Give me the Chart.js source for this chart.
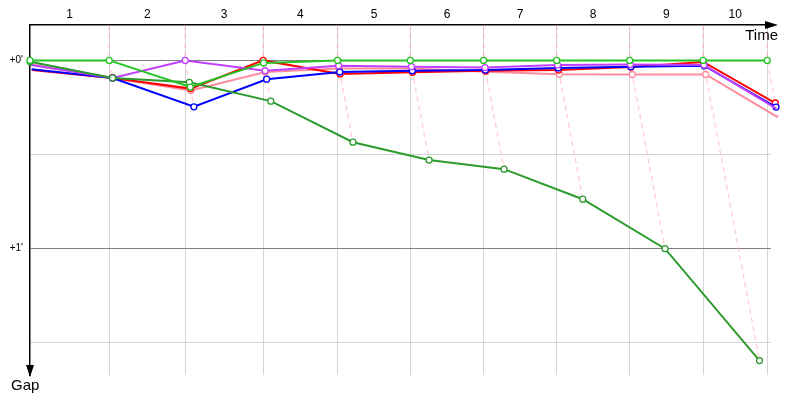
<!DOCTYPE html>
<html>
<head>
<meta charset="utf-8">
<script src="https://cdn.jsdelivr.net/npm/chart.js@4"></script>
<style>
  html, body { margin: 0; padding: 0; background: #fff; }
  #wrap { width: 800px; height: 400px; }
</style>
</head>
<body>
<div id="wrap"><canvas id="gapChart"></canvas></div>
<script>
/* ===== DATA ===== */
const laps = ["1", "2", "3", "4", "5", "6", "7", "8", "9", "10"];
// leader's elapsed time (s) at each lap line, start = 0
const lapEnds = [0, 134.6, 263.5, 395.8, 522.2, 645.7, 770.1, 894.2, 1018, 1142.7, 1251.7];

// gap to the leader (s) at each lap line
const gapLime   = [0, 0, 8.5, 0.8, 0, 0, 0, 0, 0, 0, 0];
const gapForest = [0.4, 5.6, 7.0, 13.0, 26.1, 31.8, 34.7, 44.3, 60.1, 95.8, null];
const gapViolet = [1.5, 5.6, 0, 3.3, 1.7, 2.0, 2.3, 1.5, 1.3, 1.5, 15.4];
const gapBlue   = [2.8, 5.6, 14.8, 6.0, 3.7, 3.3, 3.1, 2.4, 2.0, 1.7, 14.9];
const gapRed    = [3.1, 5.6, 9.0, 0, 4.3, 3.8, 3.3, 3.1, 2.1, 0.5, 13.6];
const gapPink   = [1.2, 5.6, 9.6, 3.7, 2.6, 2.6, 3.6, 4.4, 4.5, 4.5, 18.2];

const gapTicks = [0, 30, 60, 90];
const gapLabels = ["+0'", "", "+1'", ""];

/* ===== SERIES ===== */
const riders = [
  { gaps: gapLime,   color: "#22c422" },
  { gaps: gapForest, color: "#2c9a2c" },
  { gaps: gapViolet, color: "#c040ff" },
  { gaps: gapBlue,   color: "#0000ff" },
  { gaps: gapRed,    color: "#ff0000" },
  { gaps: gapPink,   color: "#ff8c9c" }
];

const X_MAX = 1258;
const Y_MIN = -11.3;
const Y_MAX = 100.4;

// a point sits at (leader time + gap, gap)
function toPoints(gaps) {
  const pts = [];
  gaps.forEach((g, i) => {
    if (g === null) return;
    pts.push({ x: lapEnds[i] + g, y: g });
  });
  return pts;
}

const datasets = riders.map((r, k) => ({
  data: toPoints(r.gaps),
  borderColor: r.color,
  backgroundColor: r.color,
  borderWidth: 2,
  pointRadius: ctx => (ctx.dataIndex === 0 && ctx.raw && ctx.raw.y > 0.5 ? 0 : 3),
  pointBackgroundColor: "#fff",
  pointBorderColor: r.color,
  pointBorderWidth: 1.3,
  tension: 0,
  clip: false,
  order: k
}));

// dashed lines: same finishing time for each lap line
for (let i = 1; i < lapEnds.length; i++) {
  const vals = riders.map(r => r.gaps[i]).filter(v => v !== null);
  const m = Math.max(...vals);
  datasets.push({
    data: [
      { x: lapEnds[i], y: Y_MIN },
      { x: lapEnds[i], y: 0 },
      { x: lapEnds[i] + m, y: m }
    ],
    borderColor: "rgba(255,160,185,0.55)",
    borderWidth: 1.3,
    borderDash: [5, 4],
    pointRadius: 0,
    clip: false,
    order: 20
  });
}

/* ===== AXIS ARROWS + TITLES ===== */
const arrows = {
  id: "arrows",
  afterDraw(chart) {
    const { ctx, chartArea: a } = chart;
    ctx.save();
    ctx.strokeStyle = "#000";
    ctx.fillStyle = "#000";
    ctx.lineWidth = 1.5;

    // time axis, along the top
    ctx.beginPath();
    ctx.moveTo(a.right, a.top);
    ctx.lineTo(768, a.top);
    ctx.stroke();
    ctx.beginPath();
    ctx.moveTo(778, a.top);
    ctx.lineTo(765, a.top - 4);
    ctx.lineTo(765, a.top + 4);
    ctx.closePath();
    ctx.fill();

    // gap axis, down the left
    ctx.beginPath();
    ctx.moveTo(a.left, a.bottom - 2);
    ctx.lineTo(a.left, a.bottom + 2);
    ctx.lineTo(a.left - 4, a.bottom - 10);
    ctx.lineTo(a.left + 4, a.bottom - 10);
    ctx.lineTo(a.left, a.bottom + 2);
    ctx.fill();

    ctx.font = "15px 'Liberation Sans', sans-serif";
    ctx.textBaseline = "alphabetic";
    ctx.textAlign = "right";
    ctx.fillText("Time", 778, 40);
    ctx.textAlign = "left";
    ctx.fillText("Gap", 11, 390);
    ctx.restore();
  }
};

/* ===== CHART ===== */
new Chart(document.getElementById("gapChart"), {
  type: "line",
  data: { datasets },
  options: {
    responsive: true,
    maintainAspectRatio: false,
    animation: false,
    layout: { padding: { left: 0, top: 0, right: 29, bottom: 25 } },
    plugins: { legend: { display: false }, tooltip: { enabled: false } },
    scales: {
      x: {
        type: "linear",
        position: "top",
        min: 0,
        max: X_MAX,
        afterBuildTicks: axis => {
          const t = [];
          for (let i = 1; i < lapEnds.length; i++) {
            t.push({ value: (lapEnds[i - 1] + lapEnds[i]) / 2, lap: laps[i - 1] });
            t.push({ value: lapEnds[i], lap: "" });
          }
          axis.ticks = t;
        },
        afterFit: axis => { axis.height = 25; },
        ticks: {
          autoSkip: false,
          maxRotation: 0,
          padding: 3,
          color: "#000",
          font: { family: "'Liberation Sans', sans-serif", size: 12 },
          callback: (v, i, t) => t[i].lap
        },
        grid: {
          drawTicks: false,
          color: ctx => (ctx.tick && ctx.tick.lap === "" ? "#d4d4d4" : "rgba(0,0,0,0)")
        },
        border: { display: true, color: "#000", width: 1.5 }
      },
      y: {
        type: "linear",
        reverse: true,
        min: Y_MIN,
        max: Y_MAX,
        afterBuildTicks: axis => {
          axis.ticks = gapTicks.map((v, i) => ({ value: v, text: gapLabels[i] }));
        },
        afterFit: axis => { axis.width = 30; },
        ticks: {
          padding: 7,
          color: "#000",
          font: { family: "'Liberation Sans', sans-serif", size: 10 },
          callback: (v, i, t) => t[i].text
        },
        grid: {
          drawTicks: false,
          color: ctx => (ctx.tick && ctx.tick.text ? "#808080" : "#d4d4d4")
        },
        border: { display: true, color: "#000", width: 1.5 }
      }
    }
  },
  plugins: [arrows]
});
</script>
</body>
</html>
